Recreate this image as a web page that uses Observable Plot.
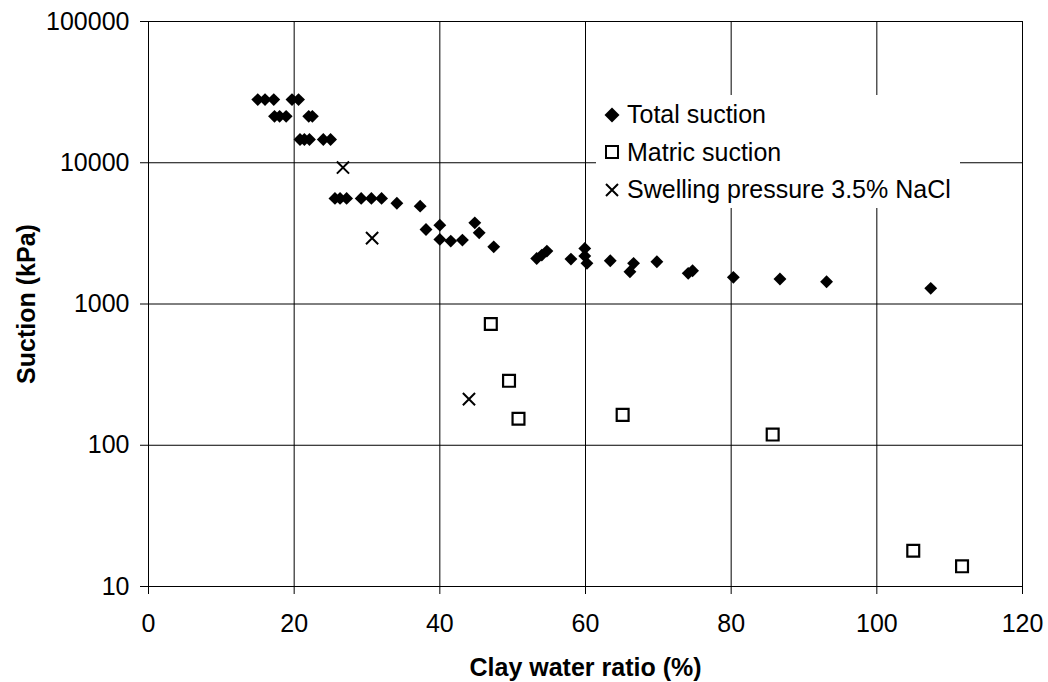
<!DOCTYPE html>
<html>
<head>
<meta charset="utf-8">
<script src="https://cdn.jsdelivr.net/npm/d3@7"></script>
<script src="https://cdn.jsdelivr.net/npm/@observablehq/plot@0.6"></script>
<style>
  body { margin: 0; background: #fff; }
  #wrap { position: relative; width: 1048px; height: 682px; font-family: "Liberation Sans", Arial, sans-serif; }
  #legend { position: absolute; left: 596px; top: 95px; width: 364px; height: 113px; background: #fff; padding-top: 1px; box-sizing: border-box; }
  .row { height: 37.5px; display: flex; align-items: center; font-size: 25px; line-height: 1; color: #000; white-space: nowrap; }
  .row svg { margin-left: 8px; margin-right: 7px; flex: none; }
</style>
</head>
<body>
<div id="wrap"></div>
<script>
// ---- Data ----
const seriesNames = ["Total suction", "Matric suction", "Swelling pressure 3.5% NaCl"];

const totalX = [15.0, 16.0, 17.2, 19.7, 20.6,
                17.3, 18.0, 18.9, 22.0, 22.5,
                20.8, 21.4, 22.1, 24.0, 25.0,
                25.6, 26.3, 27.2, 29.2, 30.6, 32.0, 34.1, 37.3,
                38.1, 40.0, 40.0, 41.5, 43.1, 44.8, 45.4, 47.4,
                53.3, 54.0, 54.7, 58.0, 59.9, 59.9, 60.2, 63.4,
                66.1, 66.6, 69.8, 74.1, 74.7, 80.3, 86.7, 93.1, 107.4];
const totalY = [28000, 28000, 28000, 28000, 28000,
                21300, 21300, 21300, 21300, 21300,
                14600, 14600, 14600, 14600, 14600,
                5590, 5590, 5590, 5590, 5590, 5590, 5170, 4930,
                3370, 3615, 2865, 2787, 2833, 3755, 3190, 2540,
                2100, 2220, 2370, 2080, 2475, 2185, 1940, 2024,
                1692, 1940, 1991, 1648, 1719, 1545, 1503, 1438, 1291];

const matricX = [47.0, 49.5, 50.8, 65.1, 85.7, 105.0, 111.7];
const matricY = [722, 286, 154, 164, 119, 17.9, 13.9];

const swellX = [26.7, 30.7, 44.0];
const swellY = [9250, 2925, 212];

const xTicks = [0, 20, 40, 60, 80, 100, 120];
const yTicks = [10, 100, 1000, 10000, 100000];

const xLabel = "Clay water ratio (%)";
const yLabel = "Suction (kPa)";

// ---- Build tables ----
const toRows = (xs, ys) => xs.map((x, i) => ({x, y: ys[i]}));
const total = toRows(totalX, totalY);
const matric = toRows(matricX, matricY);
const swell = toRows(swellX, swellY);

const chart = Plot.plot({
  width: 1048,
  height: 682,
  marginLeft: 148,
  marginRight: 26,
  marginTop: 21,
  marginBottom: 96,
  style: {fontFamily: "'Liberation Sans', Arial, sans-serif", fontSize: "25px", color: "black", background: "white"},
  x: {type: "linear", domain: [0, 120]},
  y: {type: "log", domain: [10, 100000]},
  marks: [
    Plot.gridX(xTicks, {stroke: "black", strokeOpacity: 1, strokeWidth: 1}),
    Plot.gridY(yTicks, {stroke: "black", strokeOpacity: 1, strokeWidth: 1}),
    Plot.axisX({ticks: xTicks, tickSize: 8, tickPadding: 20, label: null, tickFormat: d => String(d)}),
    Plot.axisY({ticks: yTicks, tickSize: 8, tickPadding: 11, label: null, tickFormat: d => String(d)}),
    Plot.dot(total, {x: "x", y: "y", symbol: "diamond2", r: 5.8, fill: "black", stroke: "none"}),
    Plot.dot(matric, {x: "x", y: "y", symbol: "square", r: 6.7, fill: "none", stroke: "black", strokeWidth: 2.2}),
    Plot.dot(swell, {x: "x", y: "y", symbol: "times", r: 5.6, stroke: "black", strokeWidth: 2}),
    Plot.text([xLabel], {text: d => d, frameAnchor: "bottom", lineAnchor: "bottom", textAnchor: "middle", dy: 89.5, fontWeight: "bold", fontSize: 25, fill: "black"}),
    Plot.text([yLabel], {text: d => d, frameAnchor: "left", textAnchor: "middle", lineAnchor: "middle", rotate: -90, dx: -121.5, fontWeight: "bold", fontSize: 25, fill: "black"})
  ]
});

const wrap = document.getElementById("wrap");
wrap.appendChild(chart);

// ---- Legend (inside the plot area, white box) ----
const symbolsSvg = [
  '<polygon points="8,0.5 15.5,8 8,15.5 0.5,8" fill="black"/>',
  '<rect x="2" y="2" width="12" height="12" fill="none" stroke="black" stroke-width="2"/>',
  '<path d="M2,2L14,14M2,14L14,2" stroke="black" stroke-width="2" fill="none"/>'
];
const legend = document.createElement("div");
legend.id = "legend";
seriesNames.forEach((name, i) => {
  const row = document.createElement("div");
  row.className = "row";
  row.innerHTML = `<svg width="16" height="16" viewBox="0 0 16 16">${symbolsSvg[i]}</svg><span>${name}</span>`;
  legend.appendChild(row);
});
wrap.appendChild(legend);
</script>
</body>
</html>
